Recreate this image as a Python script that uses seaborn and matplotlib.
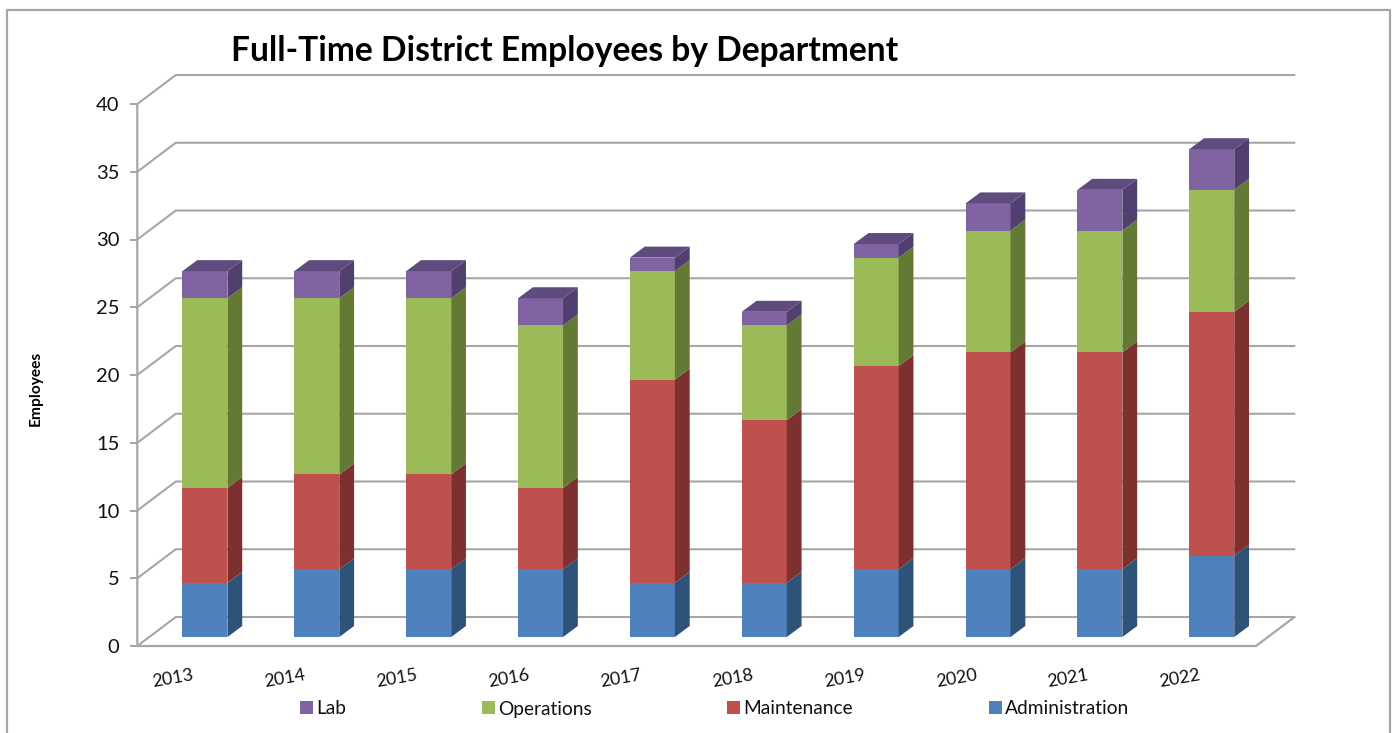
import matplotlib
matplotlib.use("Agg")
import matplotlib.pyplot as plt
from matplotlib.lines import Line2D
from matplotlib.patches import Patch, Polygon
from matplotlib.transforms import Affine2D
import pandas as pd
import seaborn as sns

years = ["2013", "2014", "2015", "2016", "2017", "2018", "2019", "2020", "2021", "2022"]
administration = [4, 5, 5, 5, 4, 4, 5, 5, 5, 6]
maintenance = [7, 7, 7, 6, 15, 12, 15, 16, 16, 18]
operations = [14, 13, 13, 12, 8, 7, 8, 9, 9, 9]
lab = [2, 2, 2, 2, 1, 1, 1, 2, 3, 3]

departments = ["Administration", "Maintenance", "Operations", "Lab"]
series = [administration, maintenance, operations, lab]
front_colors = ["#4f81bd", "#c0504d", "#9bbb59", "#8064a2"]
side_colors = ["#2f5279", "#7e302e", "#637a35", "#513f70"]
top_color = "#5f4b7e"
grid_color = "#a6a6a6"

W, H = 1395, 733
sns.set_theme(style="white")
plt.rcParams["font.family"] = ["Lato", "DejaVu Sans"]
fig = plt.figure(figsize=(W / 100, H / 100), dpi=100)


def axes_box(left, top, right, bottom):
    return [left / W, 1 - bottom / H, (right - left) / W, (bottom - top) / H]


# Front plane of the chart carries the value and year axes.
ax = fig.add_axes(axes_box(137.3, 104, 1256, 646))
ax.set_xlim(-0.5, 9.5)
ax.set_ylim(0, 40)
ax.patch.set_visible(False)

# Bars stand a little behind the front plane, on their own transparent axes.
bar_ax = fig.add_axes(axes_box(149, 95, 1267.7, 637))
bar_ax.set_xlim(-0.5, 9.5)
bar_ax.set_ylim(0, 40)
bar_ax.patch.set_visible(False)

for side in ("top", "right", "bottom", "left"):
    ax.spines[side].set_visible(False)

value_ticks = list(range(0, 41, 5))
back = Affine2D().translate(38.5, 29)
back_tf = ax.transData + back

# Wall gridlines: a slanted stub from the front plane, then along the back wall.
for v in value_ticks:
    start = ax.transData.transform((-0.5, v))
    corner = back.transform(start)
    end = back_tf.transform((9.5, v))
    fig.add_artist(Line2D([start[0], corner[0], end[0]], [start[1], corner[1], end[1]],
                          transform=None, color=grid_color, lw=1.5, zorder=-1))

# Floor edges and the vertical axis.
origin = ax.transData.transform((-0.5, 0))
floor_end = ax.transData.transform((9.5, 0))
floor_back = back.transform(floor_end)
top_left = ax.transData.transform((-0.5, 40))
fig.add_artist(Line2D([top_left[0], origin[0], floor_end[0], floor_back[0]],
                      [top_left[1], origin[1], floor_end[1], floor_back[1]],
                      transform=None, color=grid_color, lw=1.6, zorder=-1))

ax.set_yticks(value_ticks)
ax.set_xticks(range(len(years)))
ax.set_xticklabels(years, rotation=10, ha="center", fontsize=13)
ax.set_xticks([i - 0.5 for i in range(len(years) + 1)], minor=True)
ax.tick_params(axis="x", which="major", length=0, pad=15)
ax.tick_params(axis="x", which="minor", length=5, width=1.4, color=grid_color)
ax.tick_params(axis="y", length=5, width=1.4, color=grid_color, labelsize=14.5, pad=8, left=True)
shift = Affine2D().translate(-20, 0)
for label in ax.get_xticklabels():
    label.set_transform(label.get_transform() + shift)
for label in ax.get_xticklabels() + ax.get_yticklabels():
    label.set_color("#111111")

# Stacked front faces.
bottoms = [0] * len(years)
for name, values, color in zip(departments, series, front_colors):
    frame = pd.DataFrame({"year": years, "count": values, "base": bottoms})
    sns.barplot(data=frame, x="year", y="count", color=color, saturation=1, width=0.402,
                bottom=frame["base"].to_numpy(), ax=bar_ax, linewidth=0, zorder=3)
    bottoms = [b + v for b, v in zip(bottoms, values)]
bar_ax.set_xlim(-0.5, 9.5)
bar_ax.set_ylim(0, 40)
bar_ax.axis("off")

# Side and top faces give the columns their depth.
half = 0.402 / 2
depth_x = 14.8 / 111.87
depth_y = 11 / 13.55
bottoms = [0] * len(years)
for values, shade in zip(series, side_colors):
    for i, (base, v) in enumerate(zip(bottoms, values)):
        r = i + half
        bar_ax.add_patch(Polygon([(r, base), (r + depth_x, base + depth_y),
                                  (r + depth_x, base + v + depth_y), (r, base + v)],
                                 closed=True, facecolor=shade, edgecolor="none", clip_on=False, zorder=4))
    bottoms = [b + v for b, v in zip(bottoms, values)]
for i, total in enumerate(bottoms):
    l, r = i - half, i + half
    bar_ax.add_patch(Polygon([(l, total), (r, total), (r + depth_x, total + depth_y),
                              (l + depth_x, total + depth_y)],
                             closed=True, facecolor=top_color, edgecolor="none", clip_on=False, zorder=4))

# Outer chart frame, running off the lower edge.
fig.add_artist(Line2D([7 / W, 7 / W, 1390 / W, 1390 / W], [0, 1 - 10 / H, 1 - 10 / H, 0],
                      color=grid_color, lw=1.6))

fig.text(231 / W, 1 - 51 / H, "Full-Time District Employees by Department",
         fontsize=24.2, fontweight="bold", color="black", ha="left", va="center")
fig.text(35.5 / W, 1 - 388 / H, "Employees", rotation=90, fontsize=11.2, fontweight="bold",
         color="black", ha="center", va="center")

handles = [Patch(facecolor=c, edgecolor="none") for c in front_colors[::-1]]
fig.legend(handles, departments[::-1], ncol=4, loc="center left", frameon=False,
           bbox_to_anchor=(300 / W, 1 - 709 / H), fontsize=13.8, handlelength=0.68,
           handleheight=0.68, handletextpad=0.16, columnspacing=7.08, borderpad=0,
           borderaxespad=0, labelcolor="#111111")

fig.savefig("out.png", dpi=100, facecolor="white")
